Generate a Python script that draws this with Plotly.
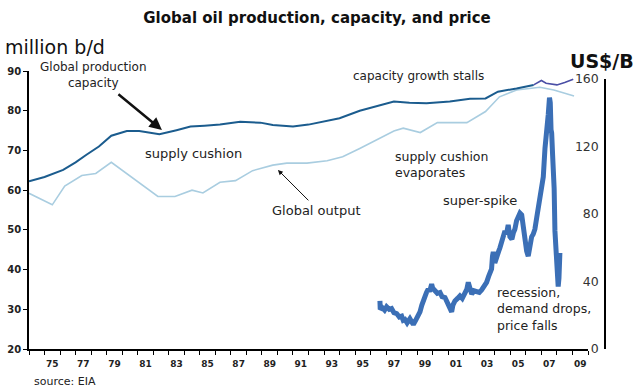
import plotly.graph_objects as go

# ---------------- data ----------------
cap_years = [1974.0, 1975.0, 1976.2, 1977.0, 1977.7, 1978.5, 1979.3, 1980.3, 1981.1, 1982.4,
             1983.5, 1984.4, 1985.3, 1986.3, 1987.6, 1988.9, 1989.7, 1991.0, 1992.0, 1992.7,
             1994.0, 1995.3, 1996.5, 1997.5, 1998.5, 1999.6, 2001.1, 2002.4, 2003.4, 2004.2,
             2005.4, 2006.5]
cap_vals = [62.2, 63.3, 65.1, 67.0, 68.9, 71.0, 73.7, 74.9, 74.9, 74.1,
            75.1, 76.0, 76.2, 76.5, 77.2, 77.0, 76.4, 76.0, 76.5, 77.1,
            78.1, 80.0, 81.2, 82.3, 82.0, 81.9, 82.3, 83.0, 83.1, 84.8,
            85.6, 86.5]

cap_recent_years = [2006.5, 2007.0, 2007.3, 2007.8, 2008.0, 2008.5, 2009.05]
cap_recent_vals = [86.5, 87.6, 86.9, 86.6, 86.5, 87.1, 87.9]

out_years = [1974.0, 1975.5, 1976.3, 1977.4, 1978.3, 1979.3, 1982.3, 1983.4, 1984.5, 1985.2,
             1986.3, 1987.3, 1988.4, 1989.7, 1990.6, 1991.9, 1993.2, 1994.2, 1995.3, 1997.5,
             1998.1, 1999.2, 2000.3, 2002.2, 2003.4, 2004.3, 2005.4, 2006.9, 2007.8, 2009.1]
out_vals = [59.2, 56.3, 61.0, 63.7, 64.2, 67.0, 58.4, 58.4, 60.0, 59.3,
            62.0, 62.4, 64.9, 66.3, 66.8, 66.8, 67.4, 68.4, 70.5, 74.9,
            75.6, 74.5, 77.0, 77.0, 79.8, 83.5, 85.2, 85.9, 85.2, 83.7]

price_years = [1996.60, 1996.62, 1996.75, 1996.90, 1997.03, 1997.20, 1997.35, 1997.50, 1997.68, 1997.85,
               1998.00, 1998.10, 1998.21, 1998.35, 1998.53, 1998.65, 1998.75, 1998.90, 1998.96, 1999.08,
               1999.18, 1999.30, 1999.40, 1999.50, 1999.60, 1999.71, 1999.80, 1999.93, 2000.00, 2000.14,
               2000.30, 2000.47, 2000.60, 2000.79, 2000.90, 2001.00, 2001.11, 2001.22, 2001.30, 2001.43,
               2001.60, 2001.75, 2001.90, 2002.07, 2002.20, 2002.29, 2002.40, 2002.51, 2002.65, 2002.83,
               2003.00, 2003.15, 2003.30, 2003.47, 2003.60, 2003.79, 2003.85, 2003.90, 2004.00, 2004.12,
               2004.25, 2004.33, 2004.50, 2004.65, 2004.75, 2004.86, 2004.97, 2005.10, 2005.20, 2005.29,
               2005.40, 2005.51, 2005.62, 2005.73, 2005.83, 2005.95, 2006.05, 2006.15, 2006.25, 2006.37,
               2006.47, 2006.58, 2006.70, 2006.80, 2006.90, 2007.01, 2007.12, 2007.23, 2007.35, 2007.44,
               2007.52, 2007.57, 2007.62, 2007.66, 2007.72, 2007.76, 2007.82, 2007.87, 2007.93, 2007.98,
               2008.03, 2008.08, 2008.13, 2008.19]
price_vals = [28.5, 23.5, 24.5, 23.0, 25.0, 23.5, 24.0, 21.5, 21.0, 19.0,
              19.5, 17.0, 17.5, 15.5, 18.0, 15.0, 14.5, 17.0, 18.0, 20.5,
              22.0, 26.0, 29.5, 31.0, 33.5, 35.5, 34.0, 38.5, 36.0, 35.0,
              33.0, 33.5, 31.0, 30.5, 28.0, 26.5, 24.0, 22.0, 26.0, 28.5,
              30.0, 31.5, 30.0, 33.0, 35.5, 39.5, 34.0, 32.5, 34.5, 34.0,
              33.5, 35.0, 37.0, 39.5, 43.0, 47.5, 55.0, 57.5, 51.0, 53.5,
              58.0, 60.0, 66.0, 70.0, 68.0, 73.5, 66.5, 65.0, 69.0, 71.0,
              76.0, 79.0, 80.5, 79.5, 72.5, 63.0, 58.0, 55.0, 62.0, 66.5,
              68.0, 71.0, 78.0, 83.0, 92.0, 97.0, 102.0, 119.0, 128.0, 139.0,
              149.0, 146.0, 130.0, 128.0, 115.0, 110.0, 95.0, 70.0, 60.0, 44.0,
              38.0, 37.0, 42.0, 57.0]

x_label_years = list(range(1975, 2010, 2))
x_tick_labels = ["75", "77", "79", "81", "83", "85", "87", "89", "91", "93",
                 "95", "97", "99", "01", "03", "05", "07", "09"]
left_ticks = [20, 30, 40, 50, 60, 70, 80, 90]
right_ticks = [0, 40, 80, 120, 160]

# ---------------- layout helpers ----------------
W, H = 640, 390
L, R, T, B = 29, 35, 71, 41
PW, PH = W - L - R, H - T - B


def px(x):
    return (x - L) / PW


def py(y):
    return (H - B - y) / PH


FONT = "DejaVu Sans"

fig = go.Figure()
fig.add_trace(go.Scatter(x=out_years, y=out_vals, mode="lines",
                         line=dict(color="#a9cde0", width=1.6), xaxis="x", yaxis="y",
                         hoverinfo="skip"))
fig.add_trace(go.Scatter(x=cap_years, y=cap_vals, mode="lines",
                         line=dict(color="#1b5c8e", width=2), xaxis="x", yaxis="y",
                         hoverinfo="skip"))
fig.add_trace(go.Scatter(x=cap_recent_years, y=cap_recent_vals, mode="lines",
                         line=dict(color="#4b4fa6", width=1.6), xaxis="x", yaxis="y",
                         hoverinfo="skip"))
fig.add_trace(go.Scatter(x=price_years, y=price_vals, mode="lines",
                         line=dict(color="#3b6fb6", width=5), xaxis="x", yaxis="y2",
                         hoverinfo="skip"))

fig.update_layout(
    width=W, height=H,
    margin=dict(l=L, r=R, t=T, b=B, autoexpand=False),
    paper_bgcolor="white", plot_bgcolor="rgba(0,0,0,0)",
    showlegend=False,
    title=dict(text="<b>Global oil production, capacity, and price</b>",
               x=0.5, xref="paper", xanchor="center",
               y=1 - 18 / H, yref="container", yanchor="middle",
               font=dict(family=FONT, size=15, color="#111")),
    xaxis=dict(domain=[0, (588 - L) / PW], range=[1974, 2010], automargin=False,
               tickmode="array", tickvals=[y + 0.5 for y in x_label_years], ticktext=x_tick_labels,
               ticks="", showgrid=False, zeroline=False,
               showline=True, linecolor="black", linewidth=1.5,
               tickfont=dict(family=FONT, size=9, color="#222", weight="bold"),
               ticklabelstandoff=5,
               minor=dict(ticks="outside", tickmode="linear", tick0=1974, dtick=1,
                          ticklen=4, tickcolor="black", tickwidth=1, showgrid=False),
               anchor="y"),
    yaxis=dict(range=[20, 90], tickvals=left_ticks, ticks="outside", ticklen=4,
               tickcolor="black", showgrid=False, zeroline=False, automargin=False,
               showline=True, linecolor="black", linewidth=1.5,
               tickfont=dict(family=FONT, size=10, color="#222", weight="bold"),
               anchor="x"),
    yaxis2=dict(domain=[0, (H - B - 79) / PH], range=[0, 160], tickvals=right_ticks,
                side="left", anchor="free", position=1, automargin=False,
                ticks="", showgrid=False, zeroline=False,
                showline=True, linecolor="black", linewidth=1.5,
                ticklabelstandoff=3,
                tickfont=dict(family=FONT, size=12.5, color="#333")),
)


def txt(text, x, y, size=13, xanchor="center", bold=False, color="#222", align="center"):
    fig.add_annotation(text=f"<b>{text}</b>" if bold else text,
                       x=px(x), y=py(y), xref="paper", yref="paper",
                       xanchor=xanchor, yanchor="middle", showarrow=False, align=align,
                       font=dict(family=FONT, size=size, color=color))


txt("million b/d", 3, 47, size=19, xanchor="left", color="#111")
txt("US$/B", 636, 61, size=19, xanchor="right", bold=True, color="#111")
txt("Global production<br>capacity", 93, 75, size=12)
txt("capacity growth stalls", 418, 76, size=12)
txt("supply cushion", 193, 153)
txt("Global output", 316, 210)
txt("supply cushion<br>evaporates", 393, 164, size=12.5, xanchor="left", align="left")
txt("super-spike", 480, 200)
txt("recession,<br>demand drops,<br>price falls", 495, 309, size=12.5, xanchor="left", align="left")
txt("source: EIA", 32, 381, size=11, xanchor="left")

# arrows (head on data coordinates, tail offsets in pixels)
fig.add_annotation(x=1982.56, y=75.15, xref="x", yref="y", ax=-45, ay=-37,
                   showarrow=True, arrowhead=2, arrowsize=1, arrowwidth=2.5,
                   arrowcolor="#111", text="")
fig.add_annotation(x=1990.03, y=65.1, xref="x", yref="y", ax=32, ay=32,
                   showarrow=True, arrowhead=2, arrowsize=1, arrowwidth=1,
                   arrowcolor="#111", text="")

fig.write_html("out.html", config={"displayModeBar": False},
               post_script="document.body.style.margin='0';document.body.style.overflow='hidden';")
